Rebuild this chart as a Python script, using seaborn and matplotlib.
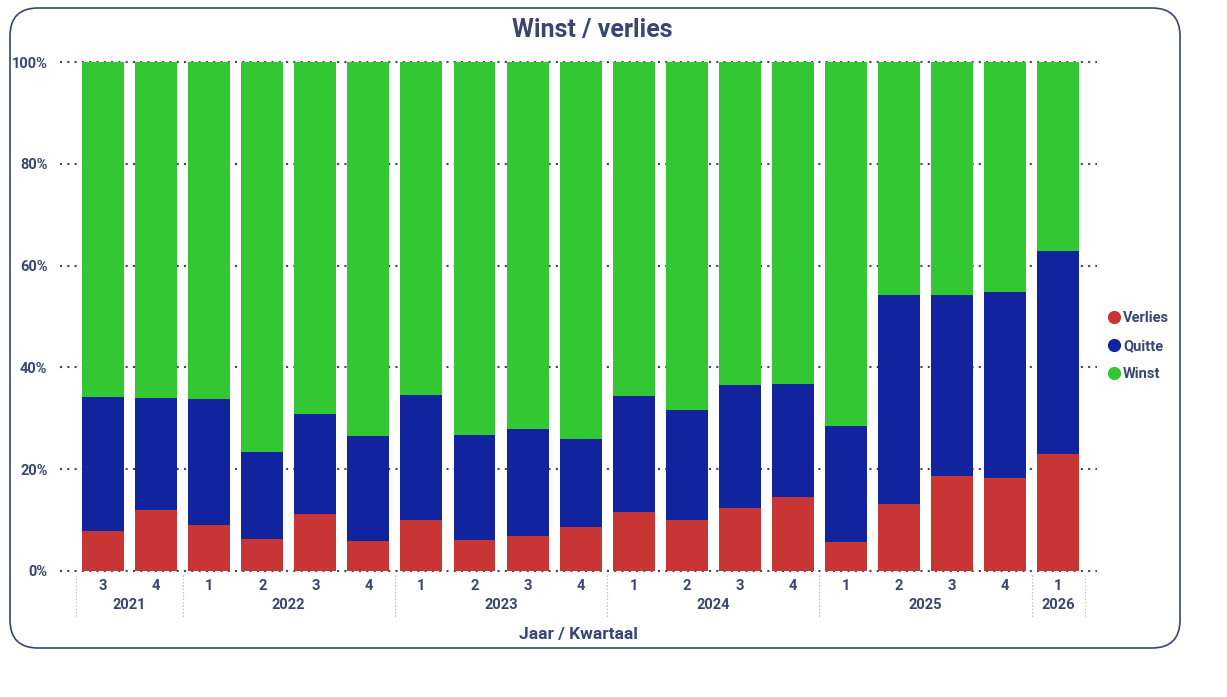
import matplotlib
matplotlib.use("Agg")
import matplotlib.pyplot as plt
import seaborn as sns
import pandas as pd
import numpy as np
from matplotlib.patches import FancyBboxPatch
from matplotlib.lines import Line2D
from matplotlib.transforms import IdentityTransform

# data (percent of matches per quarter)
years = ["2021", "2021", "2022", "2022", "2022", "2022", "2023", "2023", "2023", "2023",
         "2024", "2024", "2024", "2024", "2025", "2025", "2025", "2025", "2026"]
quarters = ["3", "4", "1", "2", "3", "4", "1", "2", "3", "4",
            "1", "2", "3", "4", "1", "2", "3", "4", "1"]
verlies = [7.9, 11.9, 9.0, 6.3, 11.2, 5.9, 10.0, 6.1, 6.9, 8.7,
           11.6, 10.0, 12.3, 14.6, 5.6, 13.1, 18.6, 18.2, 23.0]
quitte = [26.3, 22.0, 24.8, 17.1, 19.7, 20.7, 24.5, 20.7, 21.0, 17.2,
          22.8, 21.7, 24.3, 22.2, 22.9, 41.2, 35.7, 36.6, 39.9]
winst = [65.8, 66.1, 66.2, 76.6, 69.1, 73.4, 65.5, 73.2, 72.1, 74.1,
         65.6, 68.3, 63.4, 63.2, 71.5, 45.7, 45.7, 45.2, 37.1]

c_red = "#C83535"
c_blue = "#12239E"
c_green = "#33C733"
c_text = "#3A4572"

df = pd.DataFrame({"jaar": years, "kwartaal": quarters,
                   "Verlies": verlies, "Quitte": quitte, "Winst": winst})
df["periode"] = df["jaar"] + " Q" + df["kwartaal"]
tot = df["Verlies"] + df["Quitte"] + df["Winst"]
df["p_verlies"] = df["Verlies"] / tot
df["p_quitte"] = (df["Verlies"] + df["Quitte"]) / tot
df["p_winst"] = 1.0
order = list(df["periode"])

sns.set_theme(style="white")
plt.rcParams["font.family"] = ["Roboto", "DejaVu Sans"]

fig = plt.figure(figsize=(12.27, 6.97), dpi=100)
ax = fig.add_axes([60 / 1227, 1 - 571 / 697, (1097 - 60) / 1227, (571 - 62) / 697])

# rounded card border
card = FancyBboxPatch((10, 697 - 648), 1170, 640, boxstyle="round,pad=0,rounding_size=28",
                      transform=IdentityTransform(), facecolor="none",
                      edgecolor=c_text, linewidth=1.2)
fig.patches.append(card)

for ycol, col in [("p_winst", c_green), ("p_quitte", c_blue), ("p_verlies", c_red)]:
    sns.barplot(data=df, x="periode", y=ycol, order=order, color=col, saturation=1,
                width=0.79, ax=ax, zorder=3, linewidth=0)

ax.set_ylim(0, 1)
ax.set_xlim(-0.81, len(order) - 1 + 0.73)
ax.set_yticks(np.arange(0, 1.01, 0.2))
ax.set_yticklabels([f"{int(round(v * 100))}%" for v in np.arange(0, 1.01, 0.2)],
                   fontsize=10.5, fontweight="bold", color=c_text)
for v in np.arange(0, 1.01, 0.2):
    ax.axhline(v, color=c_text, linewidth=1.5, linestyle=(0, (1, 2.5)), zorder=1, clip_on=False)
for s in ax.spines.values():
    s.set_visible(False)
ax.tick_params(axis="y", length=0, pad=9)
ax.tick_params(axis="x", length=0, pad=6)
ax.set_xticks(range(len(order)))
ax.set_xticklabels(quarters, fontsize=10.5, fontweight="bold", color=c_text)
ax.set_ylabel("")
ax.set_xlabel("Jaar / Kwartaal", fontsize=12.5, fontweight="bold", color=c_text, labelpad=24)

# year group labels and dotted separators
trans = ax.get_xaxis_transform()
groups = df.groupby("jaar", sort=False).apply(lambda g: (g.index.min(), g.index.max()),
                                               include_groups=False)
for yr, (a, b) in groups.items():
    ax.text((a + b) / 2, -0.067, yr, transform=trans, ha="center", va="center",
            fontsize=10.5, fontweight="bold", color=c_text)
    for xs in (a - 0.5, b + 0.5):
        ax.plot([xs, xs], [-0.008, -0.09], transform=trans, color="#B8BCC8",
                linewidth=0.8, linestyle=(0, (1, 2)), clip_on=False)

fig.text(592 / 1227, 1 - 30 / 697, "Winst / verlies", ha="center", va="center",
         fontsize=18, fontweight="bold", color=c_text)

handles = [Line2D([], [], marker="o", linestyle="", markersize=8.5, color=c)
           for c in (c_red, c_blue, c_green)]
leg = fig.legend(handles, ["Verlies", "Quitte", "Winst"], loc="center left",
                 bbox_to_anchor=(1094 / 1227, 1 - 346 / 697), frameon=False,
                 handletextpad=0.1, labelspacing=0.95, handlelength=1.0,
                 prop={"size": 10.5, "weight": "bold"})
for t in leg.get_texts():
    t.set_color(c_text)

fig.savefig("out.png", dpi=100, facecolor="white")
